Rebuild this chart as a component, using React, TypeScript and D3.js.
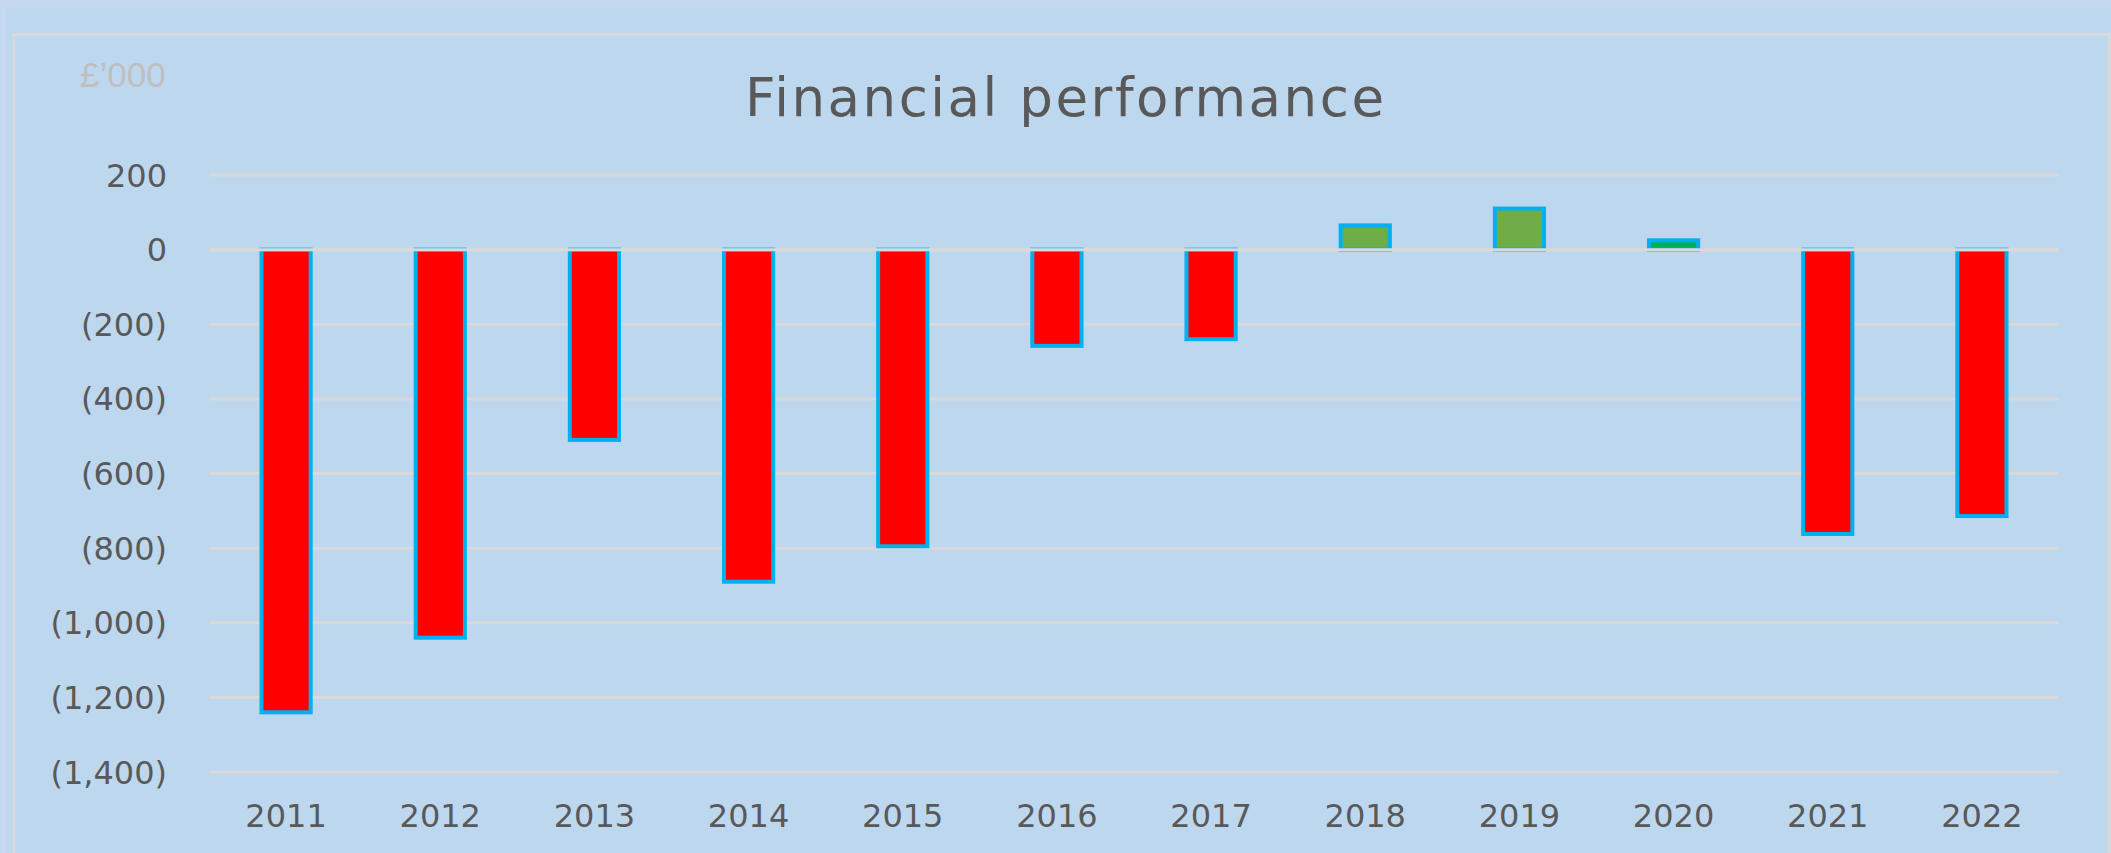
import React from 'react';
import * as d3 from 'd3';

const years = ['2011', '2012', '2013', '2014', '2015', '2016', '2017', '2018', '2019', '2020', '2021', '2022'];
const results = [-1240, -1040, -510, -890, -795, -258, -240, 65, 110, 25, -762, -714];
const yTicks = [200, 0, -200, -400, -600, -800, -1000, -1200, -1400];

const W = 2111;
const H = 853;

function fmt(v: number) {
  const s = d3.format(',')(Math.abs(v));
  return v < 0 ? '(' + s + ')' : s;
}

function barFill(year: string, v: number) {
  if (v < 0) return '#ff0000';
  if (year === '2020') return '#00b050';
  return '#70ad47';
}

export default function App() {
  const x = d3.scaleBand<string>().domain(years).range([209, 2059]).paddingInner(0.655).paddingOuter(0.3275);
  const y = d3.scaleLinear().domain([-1400, 200]).range([772, 175]);
  const bw = x.bandwidth();
  const labelFont = "'DejaVu Sans', Verdana, sans-serif";

  return (
    <svg width={W} height={H} style={{position: 'absolute', left: 0, top: 0}}>
      <rect x={0} y={0} width={W} height={H} fill="#c6d9f0" />
      <rect x={6} y={8} width={W - 6} height={H - 8} fill="#bdd7ee" />
      <rect x={14} y={34.5} width={2095} height={H + 10} fill="none" stroke="#d9d9d9" strokeWidth={3} />

      <text x={80} y={87} fontFamily="'Liberation Sans', Arial, sans-serif" fontSize={35} fill="#bfbfbf">£’000</text>
      <text x={745} y={116} fontFamily={labelFont} fontSize={53} fill="#595959"
        textLength={639} lengthAdjust="spacing">Financial performance</text>

      {yTicks.map(t => (
        <g key={t}>
          <line x1={209} x2={2059} y1={y(t)} y2={y(t)} stroke="#d9d9d9" strokeWidth={3} />
          <text x={167} y={y(t) + 11.5} textAnchor="end" fontFamily={labelFont} fontSize={32} fill="#595959">{fmt(t)}</text>
        </g>
      ))}

      {years.map((yr, i) => {
        const v = results[i];
        const top = Math.min(y(v), y(0));
        const h = Math.abs(y(v) - y(0));
        return (
          <rect key={yr} x={(x(yr) as number) + 2} y={top} width={bw - 4} height={h}
            fill={barFill(yr, v)} stroke="#00b0f0" strokeWidth={4} />
        );
      })}

      <line x1={209} x2={2059} y1={y(0)} y2={y(0)} stroke="#d9d9d9" strokeWidth={3} />

      {years.map(yr => (
        <text key={yr} x={(x(yr) as number) + bw / 2} y={827} textAnchor="middle"
          fontFamily={labelFont} fontSize={32} fill="#595959">{yr}</text>
      ))}
    </svg>
  );
}
